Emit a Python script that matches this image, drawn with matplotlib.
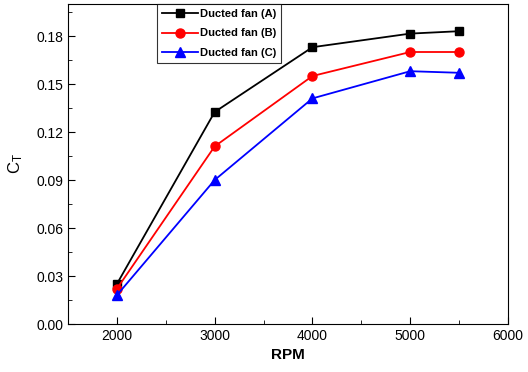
import matplotlib.pyplot as plt
from matplotlib.ticker import MultipleLocator

plt.rcParams['font.family'] = ['Liberation Sans', 'DejaVu Sans']

# RPM values and thrust coefficients
rpm = [2000, 3000, 4000, 5000, 5500]
ct_A = [0.025, 0.1325, 0.173, 0.1815, 0.183]
ct_B = [0.022, 0.111, 0.155, 0.170, 0.170]
ct_C = [0.018, 0.090, 0.141, 0.158, 0.157]
labels = ['Ducted fan (A)', 'Ducted fan (B)', 'Ducted fan (C)']

fig = plt.figure(figsize=(5.28, 3.72), dpi=100)
ax = fig.add_axes([68/528, 48/372, 440/528, 320/372])

ax.plot(rpm, ct_A, '-s', color='black', lw=1.3, ms=6, label=labels[0])
ax.plot(rpm, ct_B, '-o', color='red', lw=1.3, ms=6.5, label=labels[1])
ax.plot(rpm, ct_C, '-^', color='blue', lw=1.3, ms=7.5, label=labels[2])

ax.set_xlim(1500, 6000)
ax.set_ylim(0, 0.2)
ax.xaxis.set_minor_locator(MultipleLocator(500))
ax.yaxis.set_minor_locator(MultipleLocator(0.015))
ax.set_yticks([0, 0.03, 0.06, 0.09, 0.12, 0.15, 0.18])
ax.set_xticks([2000, 3000, 4000, 5000, 6000])
ax.yaxis.set_major_formatter(plt.FormatStrFormatter('%.2f'))
ax.tick_params(which='both', direction='in', labelsize=10)
ax.tick_params(which='major', length=5)
ax.tick_params(which='minor', length=3)

ax.set_xlabel('RPM', fontsize=11, fontweight='bold')
ax.set_ylabel(r'$\mathregular{C_T}$', fontsize=12, labelpad=8)

leg = ax.legend(loc='upper left', bbox_to_anchor=(0.203, 1.0), borderaxespad=0,
                fancybox=False, edgecolor='black', prop={'size': 8, 'weight': 'bold'},
                borderpad=0.45, labelspacing=0.85, handlelength=3.2, handletextpad=0.15)
leg.get_frame().set_linewidth(0.8)

fig.savefig('out.png', dpi=100)
